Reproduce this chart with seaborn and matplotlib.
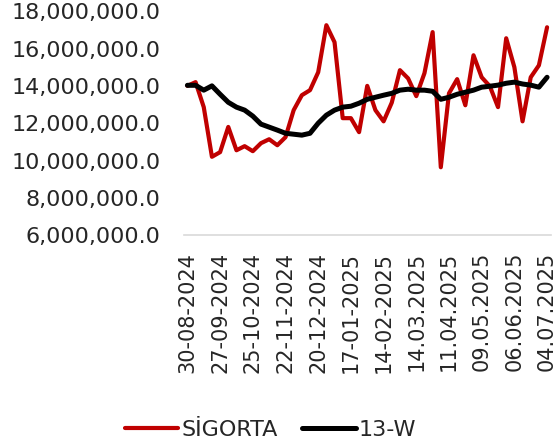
import pandas as pd
import seaborn as sns
import matplotlib.pyplot as plt
from matplotlib.ticker import FuncFormatter

sns.set_style("white")
plt.rcParams["font.family"] = ["DejaVu Sans"]

# weekly values
weeks = pd.date_range("2024-08-30", "2025-07-04", freq="7D")

sigorta = [14.0, 14.2, 12.86, 10.2, 10.45, 11.8, 10.55, 10.77, 10.5, 10.93,
           11.14, 10.82, 11.25, 12.7, 13.5, 13.77, 14.73, 17.25, 16.34, 12.27,
           12.27, 11.52, 14.0, 12.7, 12.1, 13.1, 14.84, 14.4, 13.45, 14.68,
           16.88, 9.64, 13.6, 14.36, 12.96, 15.64, 14.46, 13.98, 12.86, 16.55,
           15.0, 12.1, 14.46, 15.1, 17.14]

w13 = [14.03, 14.03, 13.77, 14.0, 13.55, 13.12, 12.86, 12.7, 12.38, 11.95,
       11.79, 11.63, 11.46, 11.41, 11.36, 11.46, 12.0, 12.43, 12.7, 12.86,
       12.91, 13.07, 13.28, 13.39, 13.5, 13.6, 13.77, 13.82, 13.77, 13.77,
       13.71, 13.28, 13.39, 13.55, 13.66, 13.77, 13.93, 13.98, 14.04, 14.14,
       14.2, 14.1, 14.04, 13.93, 14.46]

tick_labels = ["30-08-2024", "27-09-2024", "25-10-2024", "22-11-2024",
               "20-12-2024", "17-01-2025", "14-02-2025", "14.03.2025",
               "11.04.2025", "09.05.2025", "06.06.2025", "04.07.2025"]

df = pd.DataFrame({
    "pos": range(len(weeks)),
    "SİGORTA": [v * 1e6 for v in sigorta],
    "13-W": [v * 1e6 for v in w13],
})

fig, ax = plt.subplots(figsize=(5.58, 4.48), dpi=100)
fig.subplots_adjust(left=0.33, right=0.987, top=0.975, bottom=0.475)

sns.lineplot(data=df, x="pos", y="SİGORTA", color="#C00000", linewidth=3.0,
             label="SİGORTA", ax=ax)
sns.lineplot(data=df, x="pos", y="13-W", color="black", linewidth=3.6,
             label="13-W", ax=ax)

ax.set_ylim(6e6, 18e6)
ax.set_yticks([6e6, 8e6, 10e6, 12e6, 14e6, 16e6, 18e6])
ax.yaxis.set_major_formatter(FuncFormatter(lambda v, p: f"{v:,.1f}"))
ax.set_xlim(-0.4, 44.45)
ax.set_xticks(df["pos"][::4])
ax.set_xticklabels(tick_labels, rotation=90)
ax.tick_params(axis="y", length=0, pad=17, labelsize=16)
ax.tick_params(axis="x", length=0, pad=12, labelsize=15)
ax.set_xlabel("")
ax.set_ylabel("")

for s in ["top", "right", "left"]:
    ax.spines[s].set_visible(False)
ax.spines["bottom"].set_color("#d9d9d9")
ax.spines["bottom"].set_linewidth(1.2)

ax.get_legend().remove()
h, l = ax.get_legend_handles_labels()
fig.legend(h, l, loc="center", bbox_to_anchor=(0.485, 0.04), ncol=2,
           frameon=False, fontsize=16, handlelength=2.4, handletextpad=0.15,
           columnspacing=1.1)

plt.savefig("out.png", dpi=100)
